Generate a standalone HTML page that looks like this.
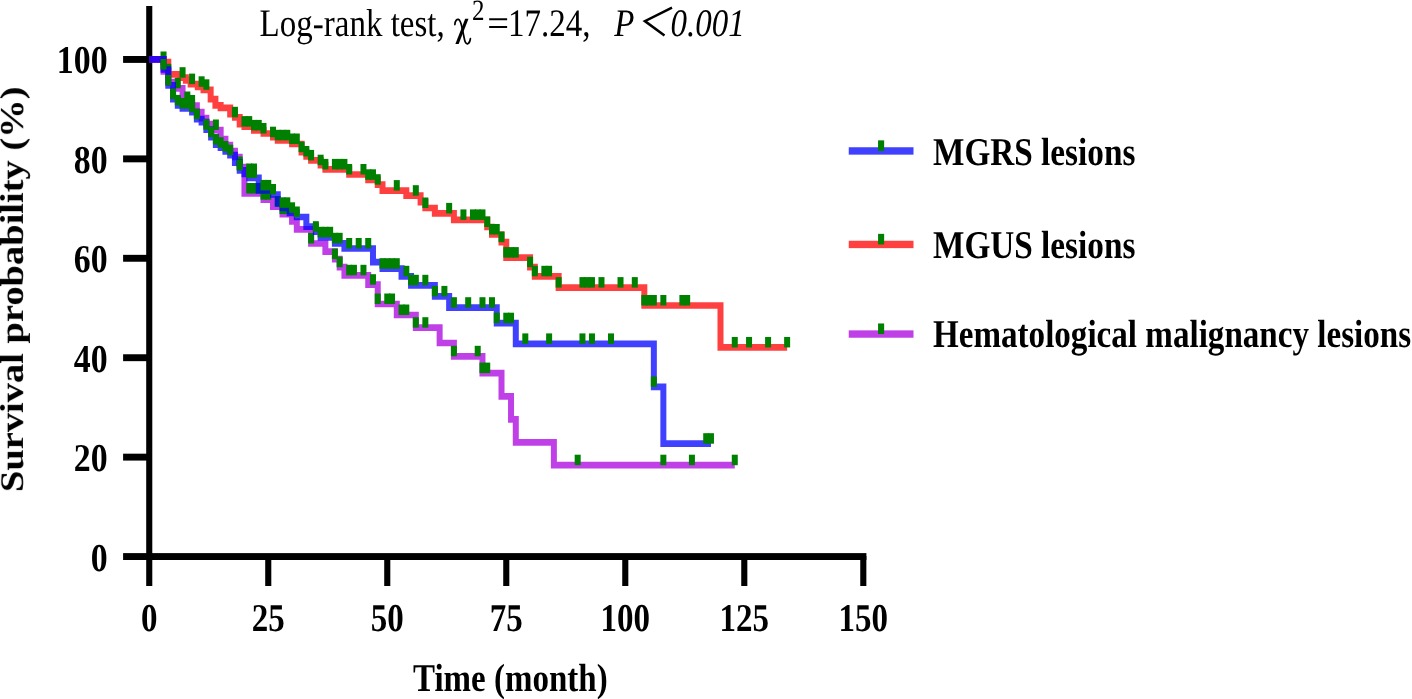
<!DOCTYPE html>
<html><head><meta charset="utf-8"><title>Survival curves</title>
<style>
html,body{margin:0;padding:0;background:#fff;}
body{width:1412px;height:699px;overflow:hidden;}
svg{display:block;font-family:"Liberation Serif",serif;fill:#000;}
.t{filter:grayscale(1);}
</style></head><body>
<svg width="1412" height="699" viewBox="0 0 1412 699" text-rendering="geometricPrecision">
<rect x="0" y="0" width="1412" height="699" fill="#fff"/>
<rect x="146.2" y="6" width="6.10" height="580" fill="#000"/>
<rect x="123.1" y="553.1" width="743.30" height="6.90" fill="#000"/>
<rect x="123.1" y="56.00" width="26" height="6.9" fill="#000"/>
<rect x="123.1" y="155.42" width="26" height="6.9" fill="#000"/>
<rect x="123.1" y="254.84" width="26" height="6.9" fill="#000"/>
<rect x="123.1" y="354.26" width="26" height="6.9" fill="#000"/>
<rect x="123.1" y="453.68" width="26" height="6.9" fill="#000"/>
<rect x="265.21" y="556" width="6.1" height="30" fill="#000"/>
<rect x="384.21" y="556" width="6.1" height="30" fill="#000"/>
<rect x="503.22" y="556" width="6.1" height="30" fill="#000"/>
<rect x="622.23" y="556" width="6.1" height="30" fill="#000"/>
<rect x="741.24" y="556" width="6.1" height="30" fill="#000"/>
<rect x="860.25" y="556" width="6.1" height="30" fill="#000"/>
<g transform="scale(1,1.11)"><path d="M149.25,53.559H163.53V55.856H168.29V66.937H179.72V70.000H185.90V72.342H190.66V75.766H197.81V78.198H203.52V80.901H210.66V89.369H215.42V94.955H220.65V97.207H230.18V102.883H234.94V105.676H239.70V111.802H244.46V114.054H253.98V117.477H263.50V120.270H273.02V123.604H277.78V126.396H292.06V129.730H301.58V137.117H306.34V140.991H311.10V144.505H320.62V148.829H325.38V152.613H349.18V157.207H368.22V161.982H377.74V166.396H382.50V171.712H406.31V176.306H420.59V182.162H425.35V187.387H434.87V192.252H453.91V198.108H487.23V204.505H491.99V211.261H501.51V218.198H506.27V232.072H530.07V240.721H534.83V248.919H558.64V259.099H644.32V275.225H720.49V313.018H787.13" fill="none" stroke="#ff0000" stroke-opacity="0.75" stroke-width="6.0" stroke-linejoin="miter"/></g><g fill="#008000"><rect x="160.53" y="51.50" width="6.0" height="10.5"/><rect x="165.29" y="63.80" width="6.0" height="10.5"/><rect x="179.57" y="67.20" width="6.0" height="10.5"/><rect x="189.09" y="73.60" width="6.0" height="10.5"/><rect x="198.61" y="76.30" width="6.0" height="10.5"/><rect x="203.37" y="79.30" width="6.0" height="10.5"/><rect x="231.94" y="106.80" width="6.0" height="10.5"/><rect x="241.46" y="116.10" width="6.0" height="10.5"/><rect x="246.22" y="116.10" width="6.0" height="10.5"/><rect x="250.98" y="119.90" width="6.0" height="10.5"/><rect x="255.74" y="119.90" width="6.0" height="10.5"/><rect x="260.50" y="123.00" width="6.0" height="10.5"/><rect x="270.02" y="126.70" width="6.0" height="10.5"/><rect x="274.78" y="129.80" width="6.0" height="10.5"/><rect x="279.54" y="129.80" width="6.0" height="10.5"/><rect x="284.30" y="129.80" width="6.0" height="10.5"/><rect x="289.06" y="133.50" width="6.0" height="10.5"/><rect x="293.82" y="133.50" width="6.0" height="10.5"/><rect x="298.58" y="141.70" width="6.0" height="10.5"/><rect x="303.34" y="146.00" width="6.0" height="10.5"/><rect x="308.10" y="149.90" width="6.0" height="10.5"/><rect x="317.62" y="154.70" width="6.0" height="10.5"/><rect x="322.38" y="158.90" width="6.0" height="10.5"/><rect x="331.90" y="158.90" width="6.0" height="10.5"/><rect x="336.66" y="158.90" width="6.0" height="10.5"/><rect x="341.42" y="158.90" width="6.0" height="10.5"/><rect x="346.18" y="164.00" width="6.0" height="10.5"/><rect x="360.46" y="164.00" width="6.0" height="10.5"/><rect x="365.22" y="169.30" width="6.0" height="10.5"/><rect x="369.98" y="169.30" width="6.0" height="10.5"/><rect x="374.74" y="174.20" width="6.0" height="10.5"/><rect x="393.79" y="180.10" width="6.0" height="10.5"/><rect x="412.83" y="185.20" width="6.0" height="10.5"/><rect x="422.35" y="197.50" width="6.0" height="10.5"/><rect x="446.15" y="202.90" width="6.0" height="10.5"/><rect x="460.43" y="209.40" width="6.0" height="10.5"/><rect x="469.95" y="209.40" width="6.0" height="10.5"/><rect x="474.71" y="209.40" width="6.0" height="10.5"/><rect x="479.47" y="209.40" width="6.0" height="10.5"/><rect x="484.23" y="216.50" width="6.0" height="10.5"/><rect x="488.99" y="224.00" width="6.0" height="10.5"/><rect x="493.75" y="224.00" width="6.0" height="10.5"/><rect x="498.51" y="231.70" width="6.0" height="10.5"/><rect x="503.27" y="247.10" width="6.0" height="10.5"/><rect x="508.03" y="247.10" width="6.0" height="10.5"/><rect x="512.79" y="247.10" width="6.0" height="10.5"/><rect x="527.07" y="256.70" width="6.0" height="10.5"/><rect x="531.83" y="265.80" width="6.0" height="10.5"/><rect x="541.35" y="265.80" width="6.0" height="10.5"/><rect x="546.12" y="265.80" width="6.0" height="10.5"/><rect x="555.64" y="277.10" width="6.0" height="10.5"/><rect x="579.44" y="277.10" width="6.0" height="10.5"/><rect x="584.20" y="277.10" width="6.0" height="10.5"/><rect x="588.96" y="277.10" width="6.0" height="10.5"/><rect x="598.48" y="277.10" width="6.0" height="10.5"/><rect x="617.52" y="277.10" width="6.0" height="10.5"/><rect x="631.80" y="277.10" width="6.0" height="10.5"/><rect x="641.32" y="295.00" width="6.0" height="10.5"/><rect x="646.08" y="295.00" width="6.0" height="10.5"/><rect x="650.84" y="295.00" width="6.0" height="10.5"/><rect x="660.36" y="295.00" width="6.0" height="10.5"/><rect x="679.40" y="295.00" width="6.0" height="10.5"/><rect x="684.16" y="295.00" width="6.0" height="10.5"/><rect x="731.77" y="336.95" width="6.0" height="10.5"/><rect x="746.05" y="336.95" width="6.0" height="10.5"/><rect x="765.09" y="336.95" width="6.0" height="10.5"/><rect x="784.13" y="336.95" width="6.0" height="10.5"/></g>
<g transform="scale(1,1.11)"><path d="M149.25,53.559H163.53V64.234H168.29V74.054H173.05V79.550H182.57V88.288H187.33V91.892H192.09V95.045H196.85V100.901H201.61V106.486H206.37V111.712H211.13V117.117H220.65V125.225H225.41V130.631H230.18V136.036H234.94V141.441H239.70V150.450H244.46V174.324H263.50V179.910H273.02V186.126H282.54V192.883H292.06V199.550H296.82V206.577H311.10V219.369H325.38V226.667H334.90V233.423H339.66V240.721H344.42V248.018H368.22V256.486H377.74V273.874H396.79V283.784H415.83V295.225H439.63V309.009H453.91V320.991H482.47V336.126H501.51V357.117H511.03V377.838H515.79V398.559H553.88V419.099H734.77" fill="none" stroke="#ab00e0" stroke-opacity="0.75" stroke-width="6.0" stroke-linejoin="miter"/></g><g fill="#008000"><rect x="174.81" y="77.80" width="6.0" height="10.5"/><rect x="184.33" y="91.50" width="6.0" height="10.5"/><rect x="189.09" y="95.00" width="6.0" height="10.5"/><rect x="212.89" y="119.50" width="6.0" height="10.5"/><rect x="236.70" y="156.50" width="6.0" height="10.5"/><rect x="246.22" y="183.00" width="6.0" height="10.5"/><rect x="250.98" y="183.00" width="6.0" height="10.5"/><rect x="255.74" y="183.00" width="6.0" height="10.5"/><rect x="260.50" y="189.20" width="6.0" height="10.5"/><rect x="265.26" y="189.20" width="6.0" height="10.5"/><rect x="274.78" y="196.10" width="6.0" height="10.5"/><rect x="279.54" y="203.60" width="6.0" height="10.5"/><rect x="284.30" y="203.60" width="6.0" height="10.5"/><rect x="308.10" y="233.00" width="6.0" height="10.5"/><rect x="331.90" y="248.60" width="6.0" height="10.5"/><rect x="336.66" y="256.70" width="6.0" height="10.5"/><rect x="346.18" y="264.80" width="6.0" height="10.5"/><rect x="350.94" y="264.80" width="6.0" height="10.5"/><rect x="360.46" y="264.80" width="6.0" height="10.5"/><rect x="369.98" y="274.20" width="6.0" height="10.5"/><rect x="374.74" y="293.50" width="6.0" height="10.5"/><rect x="384.26" y="293.50" width="6.0" height="10.5"/><rect x="389.03" y="293.50" width="6.0" height="10.5"/><rect x="398.55" y="304.50" width="6.0" height="10.5"/><rect x="403.31" y="304.50" width="6.0" height="10.5"/><rect x="412.83" y="317.20" width="6.0" height="10.5"/><rect x="422.35" y="317.20" width="6.0" height="10.5"/><rect x="450.91" y="345.80" width="6.0" height="10.5"/><rect x="474.71" y="345.80" width="6.0" height="10.5"/><rect x="479.47" y="362.60" width="6.0" height="10.5"/><rect x="484.23" y="362.60" width="6.0" height="10.5"/><rect x="574.68" y="454.70" width="6.0" height="10.5"/><rect x="660.36" y="454.70" width="6.0" height="10.5"/><rect x="688.92" y="454.70" width="6.0" height="10.5"/><rect x="731.77" y="454.70" width="6.0" height="10.5"/></g>
<g transform="scale(1,1.11)"><path d="M149.25,53.559H163.53V62.613H168.29V76.937H173.05V89.279H177.81V94.955H182.57V97.748H192.09V101.081H196.85V107.297H201.61V110.090H206.37V116.847H211.13V123.514H215.89V130.270H220.65V133.063H225.41V136.486H230.18V139.820H234.94V146.577H239.70V153.514H244.46V156.757H249.22V160.270H258.74V171.532H273.02V175.225H277.78V183.333H282.54V187.207H289.68V191.712H296.82V195.495H306.34V204.234H315.86V208.739H320.62V213.784H334.90V219.189H344.42V223.874H372.98V236.216H382.50V242.072H401.55V248.919H411.07V257.027H434.87V267.027H449.15V277.207H496.75V291.171H515.79V309.820H653.84V348.559H663.36V399.730H710.97" fill="none" stroke="#0000ff" stroke-opacity="0.75" stroke-width="6.0" stroke-linejoin="miter"/></g><g fill="#008000"><rect x="160.53" y="59.00" width="6.0" height="10.5"/><rect x="165.29" y="74.90" width="6.0" height="10.5"/><rect x="170.05" y="88.60" width="6.0" height="10.5"/><rect x="174.81" y="94.90" width="6.0" height="10.5"/><rect x="179.57" y="98.00" width="6.0" height="10.5"/><rect x="184.33" y="98.00" width="6.0" height="10.5"/><rect x="189.09" y="101.70" width="6.0" height="10.5"/><rect x="193.85" y="108.60" width="6.0" height="10.5"/><rect x="203.37" y="119.20" width="6.0" height="10.5"/><rect x="208.13" y="126.60" width="6.0" height="10.5"/><rect x="212.89" y="134.10" width="6.0" height="10.5"/><rect x="217.65" y="137.20" width="6.0" height="10.5"/><rect x="222.41" y="141.00" width="6.0" height="10.5"/><rect x="227.18" y="144.70" width="6.0" height="10.5"/><rect x="236.70" y="159.90" width="6.0" height="10.5"/><rect x="246.22" y="167.40" width="6.0" height="10.5"/><rect x="250.98" y="167.40" width="6.0" height="10.5"/><rect x="260.50" y="179.90" width="6.0" height="10.5"/><rect x="265.26" y="179.90" width="6.0" height="10.5"/><rect x="270.02" y="184.00" width="6.0" height="10.5"/><rect x="279.54" y="197.30" width="6.0" height="10.5"/><rect x="284.30" y="197.30" width="6.0" height="10.5"/><rect x="289.06" y="202.30" width="6.0" height="10.5"/><rect x="293.82" y="206.50" width="6.0" height="10.5"/><rect x="312.86" y="221.20" width="6.0" height="10.5"/><rect x="317.62" y="226.80" width="6.0" height="10.5"/><rect x="322.38" y="226.80" width="6.0" height="10.5"/><rect x="327.14" y="226.80" width="6.0" height="10.5"/><rect x="331.90" y="232.80" width="6.0" height="10.5"/><rect x="336.66" y="232.80" width="6.0" height="10.5"/><rect x="346.18" y="238.00" width="6.0" height="10.5"/><rect x="355.70" y="238.00" width="6.0" height="10.5"/><rect x="365.22" y="238.00" width="6.0" height="10.5"/><rect x="379.50" y="258.20" width="6.0" height="10.5"/><rect x="384.26" y="258.20" width="6.0" height="10.5"/><rect x="389.03" y="258.20" width="6.0" height="10.5"/><rect x="393.79" y="258.20" width="6.0" height="10.5"/><rect x="403.31" y="265.80" width="6.0" height="10.5"/><rect x="408.07" y="274.80" width="6.0" height="10.5"/><rect x="412.83" y="274.80" width="6.0" height="10.5"/><rect x="422.35" y="274.80" width="6.0" height="10.5"/><rect x="431.87" y="285.90" width="6.0" height="10.5"/><rect x="441.39" y="285.90" width="6.0" height="10.5"/><rect x="450.91" y="297.20" width="6.0" height="10.5"/><rect x="465.19" y="297.20" width="6.0" height="10.5"/><rect x="479.47" y="297.20" width="6.0" height="10.5"/><rect x="488.99" y="297.20" width="6.0" height="10.5"/><rect x="493.75" y="312.70" width="6.0" height="10.5"/><rect x="503.27" y="312.70" width="6.0" height="10.5"/><rect x="508.03" y="312.70" width="6.0" height="10.5"/><rect x="522.31" y="333.40" width="6.0" height="10.5"/><rect x="546.12" y="333.40" width="6.0" height="10.5"/><rect x="579.44" y="333.40" width="6.0" height="10.5"/><rect x="588.96" y="333.40" width="6.0" height="10.5"/><rect x="608.00" y="333.40" width="6.0" height="10.5"/><rect x="650.84" y="376.40" width="6.0" height="10.5"/><rect x="703.21" y="433.20" width="6.0" height="10.5"/><rect x="707.97" y="433.20" width="6.0" height="10.5"/><rect x="246.22" y="163.50" width="6.0" height="10.5"/><rect x="250.98" y="163.50" width="6.0" height="10.5"/></g>
<rect x="848.75" y="147.25" width="64.75" height="7.4" fill="#0000ff" fill-opacity="0.75"/><rect x="878.05" y="140.35" width="6.1" height="10.6" fill="#008000"/>
<rect x="848.75" y="240.75" width="64.75" height="7.4" fill="#ff0000" fill-opacity="0.75"/><rect x="878.05" y="233.85" width="6.1" height="10.6" fill="#008000"/>
<rect x="848.75" y="330.35" width="64.75" height="7.4" fill="#ab00e0" fill-opacity="0.75"/><rect x="878.05" y="323.45" width="6.1" height="10.6" fill="#008000"/>
<g shape-rendering="geometricPrecision"><path d="M465.2,18.7 L468.5,18.7 L458.7,44 L455.4,44 Z" fill="#000"/><path d="M454.9,24.6 C455,20.6 456.9,19.1 458.4,19.4 C460.3,19.9 461.1,23 462.1,28 L464.6,40 C465.3,43.2 466.6,44.2 468,43.6 C469.3,43 470.1,41 470.4,38.6" fill="none" stroke="#000" stroke-width="1.7" stroke-linecap="round"/></g>
<path d="M672,7.7 L644.9,21.1 L664.5,35.4" fill="none" stroke="#000" stroke-width="2.5" stroke-linejoin="miter" shape-rendering="geometricPrecision"/>
<g class="t">
<text transform="translate(107.6,73.45) scale(1.025,1.195)" text-anchor="end" font-weight="bold" font-size="33">100</text>
<text transform="translate(107.6,172.87) scale(1.025,1.195)" text-anchor="end" font-weight="bold" font-size="33">80</text>
<text transform="translate(107.6,272.29) scale(1.025,1.195)" text-anchor="end" font-weight="bold" font-size="33">60</text>
<text transform="translate(107.6,371.71) scale(1.025,1.195)" text-anchor="end" font-weight="bold" font-size="33">40</text>
<text transform="translate(107.6,471.13) scale(1.025,1.195)" text-anchor="end" font-weight="bold" font-size="33">20</text>
<text transform="translate(107.6,570.55) scale(1.025,1.195)" text-anchor="end" font-weight="bold" font-size="33">0</text>
<text transform="translate(149.25,631.1) scale(1,1.195)" text-anchor="middle" font-weight="bold" font-style="normal" font-size="33" >0</text>
<text transform="translate(268.26,631.1) scale(1,1.195)" text-anchor="middle" font-weight="bold" font-style="normal" font-size="33" >25</text>
<text transform="translate(387.26,631.1) scale(1,1.195)" text-anchor="middle" font-weight="bold" font-style="normal" font-size="33" >50</text>
<text transform="translate(506.27,631.1) scale(1,1.195)" text-anchor="middle" font-weight="bold" font-style="normal" font-size="33" >75</text>
<text transform="translate(625.28,631.1) scale(1,1.195)" text-anchor="middle" font-weight="bold" font-style="normal" font-size="33" >100</text>
<text transform="translate(744.29,631.1) scale(1,1.195)" text-anchor="middle" font-weight="bold" font-style="normal" font-size="33" >125</text>
<text transform="translate(863.29,631.1) scale(1,1.195)" text-anchor="middle" font-weight="bold" font-style="normal" font-size="33" >150</text>
<text transform="translate(413,690.6) scale(1,1.195)" text-anchor="start" font-weight="bold" font-style="normal" font-size="33" >Time (month)</text>
<text transform="translate(22.9,492.1) rotate(-90) scale(1.166,1)" font-weight="bold" font-size="33">Survival probability (%)</text>
<text transform="translate(259.6,35.9) scale(1,1.18)" text-anchor="start" font-weight="normal" font-style="normal" font-size="33" >Log-rank test,</text>
<text transform="translate(472.0,20.0) scale(1,1.18)" text-anchor="start" font-weight="normal" font-style="normal" font-size="25" >2</text>
<text transform="translate(487.3,36.0) scale(1.17,1.18)" font-size="33">=</text>
<text transform="translate(508.0,35.9) scale(1,1.18)" text-anchor="start" font-weight="normal" font-style="normal" font-size="33" >17.24,</text>
<text transform="translate(614.2,36.2) scale(1,1.18)" text-anchor="start" font-weight="normal" font-style="italic" font-size="33" >P</text>
<text transform="translate(670.5,36.2) scale(1,1.18)" text-anchor="start" font-weight="normal" font-style="italic" font-size="33" >0.001</text>
<text transform="translate(933,164.5) scale(1.008,1.195)" font-weight="bold" font-size="33">MGRS lesions</text>
<text transform="translate(933,258.1) scale(1.008,1.195)" font-weight="bold" font-size="33">MGUS lesions</text>
<text transform="translate(933,347.2) scale(1.003,1.195)" font-weight="bold" font-size="33">Hematological malignancy lesions</text>
</g>
</svg>
</body></html>
